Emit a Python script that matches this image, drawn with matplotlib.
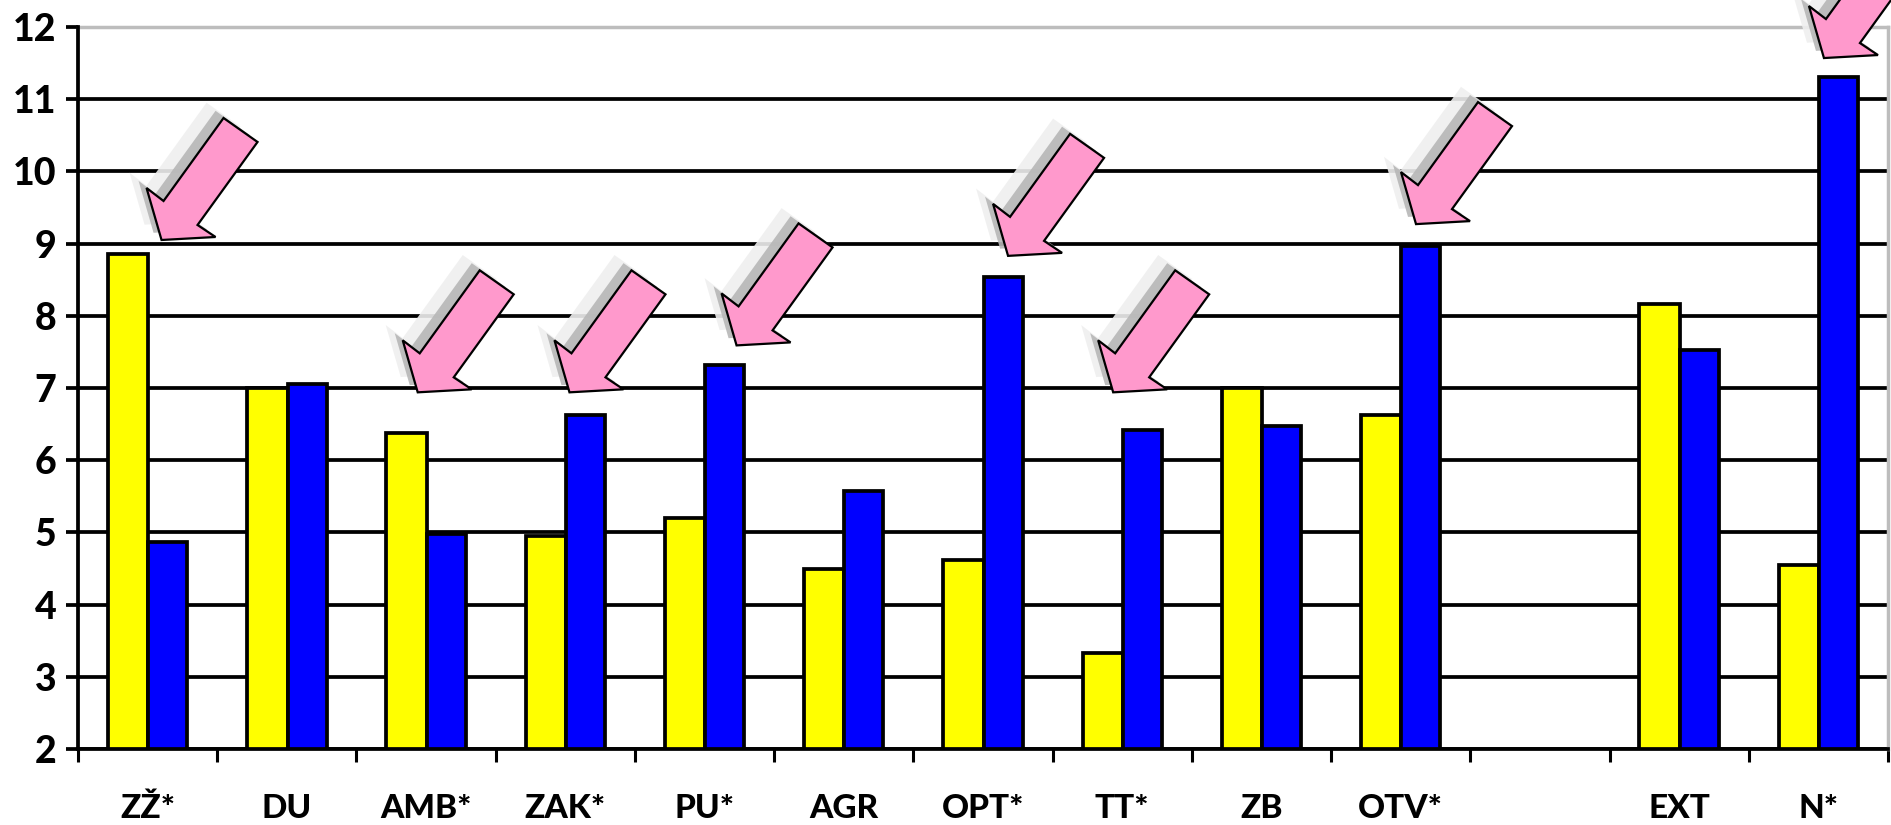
import matplotlib.pyplot as plt
import numpy as np
from matplotlib.patches import Polygon
from matplotlib.transforms import IdentityTransform

categories = ['ZŽ*', 'DU', 'AMB*', 'ZAK*', 'PU*', 'AGR', 'OPT*', 'TT*', 'ZB', 'OTV*', '', 'EXT', 'N*']
yellow_values = [8.85, 7.0, 6.37, 4.95, 5.2, 4.5, 4.62, 3.33, 7.0, 6.63, np.nan, 8.17, 4.55]
blue_values = [4.87, 7.05, 4.98, 6.63, 7.32, 5.57, 8.54, 6.42, 6.47, 8.97, np.nan, 7.53, 11.31]

# arrows: category position and value of the arrow tip
arrow_cat = [0.1, 1.94, 3.03, 4.23, 6.18, 6.935, 9.11, 12.04]
arrow_val = [9.05, 6.94, 6.94, 7.59, 8.83, 6.94, 9.27, 11.57]

# arrow outline in pixels relative to the tip (y up)
arrow_shape = [(0, 0), (54, 3), (36, 15), (96, 98), (62, 122), (2, 39), (-15, 52)]

W, H = 1891, 825
plt.rcParams['font.family'] = ['Lato', 'DejaVu Sans']
fig = plt.figure(figsize=(W / 100, H / 100), dpi=100)

left, right, top, bottom = 78, 1888, 27, 749
ax = fig.add_axes([left / W, 1 - bottom / H, (right - left) / W, (bottom - top) / H])

x = np.arange(len(categories))
ax.bar(x - 0.14, yellow_values, 0.29, color='#ffff00', edgecolor='black', linewidth=2.7, zorder=3)
ax.bar(x + 0.145, blue_values, 0.28, color='#0000ff', edgecolor='black', linewidth=2.7, zorder=3)

ax.set_xlim(-0.5, len(categories) - 0.5)
ax.set_ylim(2, 12)
ax.set_yticks(range(2, 13))
ax.set_yticklabels(range(2, 13), fontsize=27, fontweight=900)
ax.set_xticks(np.arange(len(categories) + 1) - 0.5)
ax.set_xticklabels([])
ax.tick_params(axis='y', length=8.5, width=2.7, pad=7)
ax.tick_params(axis='x', length=9.5, width=2.2)

ax.grid(axis='y', color='black', linewidth=2.7, zorder=1)
ax.set_axisbelow(True)
for side in ['top', 'right']:
    ax.spines[side].set_color('#bdbdbd')
    ax.spines[side].set_linewidth(2.5)
for side in ['left', 'bottom']:
    ax.spines[side].set_linewidth(2.7)
    ax.spines[side].set_zorder(4)
ax.yaxis.get_gridlines()[-1].set_visible(False)

for i, name in enumerate(categories):
    ax.annotate(name, (i, 2), xytext=(0, -43), textcoords='offset points', ha='center', va='center',
                fontsize=24, fontweight=900, annotation_clip=False)

# pink arrows with the soft double shadow
fig.canvas.draw()
shape = np.array(arrow_shape, dtype=float)
for c, v in zip(arrow_cat, arrow_val):
    tip = ax.transData.transform((c, v))
    for off, col in [(17, '#efefef'), (8, '#b7b7b7')]:
        ax.add_patch(Polygon(shape + tip + [-off, off * 0.9], closed=True, facecolor=col, edgecolor='none',
                             alpha=0.9, transform=IdentityTransform(), clip_on=False, zorder=5))
    ax.add_patch(Polygon(shape + tip, closed=True, facecolor='#ff99cc', edgecolor='black', linewidth=1.6,
                         joinstyle='miter', transform=IdentityTransform(), clip_on=False, zorder=6))

fig.savefig('out.png', dpi=100)
